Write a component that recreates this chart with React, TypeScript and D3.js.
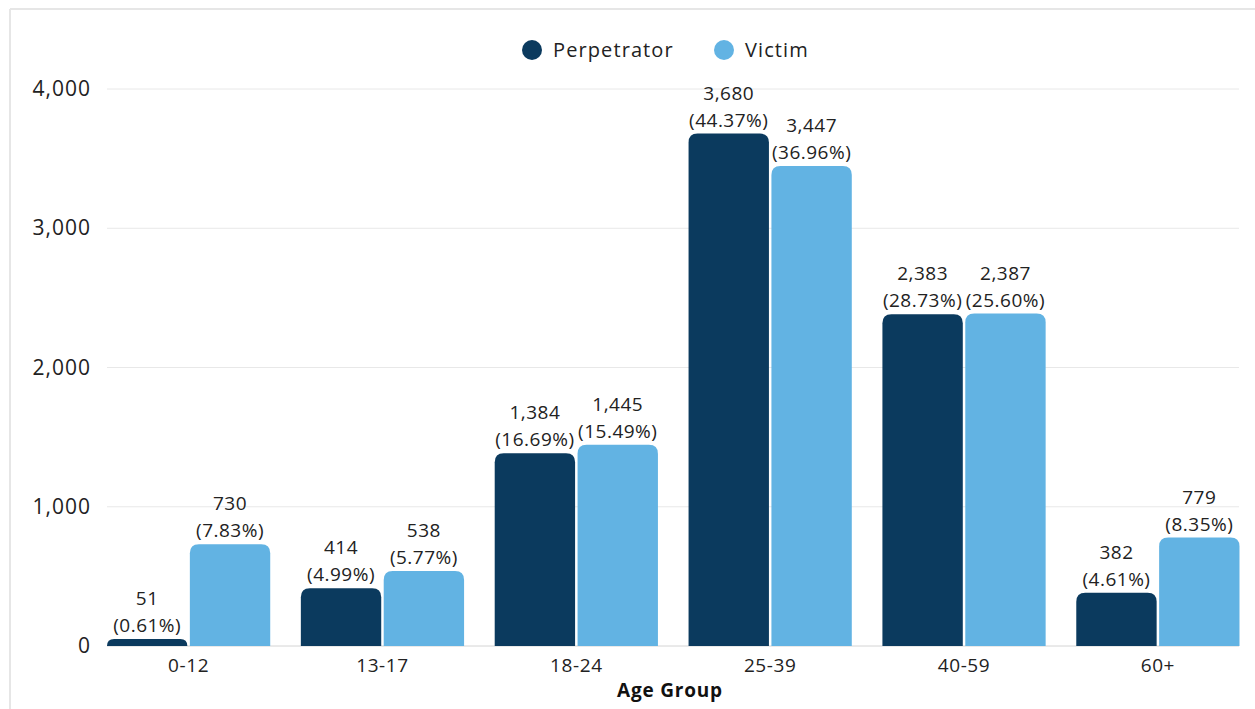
import React from "react";
import * as d3 from "d3";

const categories = ["0-12", "13-17", "18-24", "25-39", "40-59", "60+"];
const seriesNames = ["Perpetrator", "Victim"];
const perpetratorValues = [51, 414, 1384, 3680, 2383, 382];
const perpetratorPct = ["0.61%", "4.99%", "16.69%", "44.37%", "28.73%", "4.61%"];
const victimValues = [730, 538, 1445, 3447, 2387, 779];
const victimPct = ["7.83%", "5.77%", "15.49%", "36.96%", "25.60%", "8.35%"];
const yTicks = [0, 1000, 2000, 3000, 4000];
const xAxisTitle = "Age Group";

const colors = ["#0b3a5e", "#62b3e3"];
const FONT = "'Open Sans', 'DejaVu Sans', sans-serif";

function topRoundedRect(x: number, y: number, w: number, h: number, r: number) {
  const rr = Math.min(r, h, w / 2);
  return `M${x},${y + h}V${y + rr}Q${x},${y} ${x + rr},${y}H${x + w - rr}Q${x + w},${y} ${x + w},${y + rr}V${y + h}Z`;
}

export default function App() {
  const W = 1255, H = 709;
  const x0 = d3.scaleBand<string>().domain(categories).range([107, 1239.5]).paddingInner(0.158).paddingOuter(0);
  const x1 = d3.scaleBand<string>().domain(seriesNames).range([0, x0.bandwidth()]).paddingInner(0.03);
  const y = d3.scaleLinear().domain([0, 4000]).range([646, 89]);

  const series = [
    { name: seriesNames[0], values: perpetratorValues, pct: perpetratorPct, color: colors[0] },
    { name: seriesNames[1], values: victimValues, pct: victimPct, color: colors[1] },
  ];

  return (
    <svg width={W} height={H} style={{ position: "absolute", left: 0, top: 0, background: "#fff" }} fontFamily={FONT}>
      {/* frame */}
      <line x1={10} x2={W} y1={9} y2={9} stroke="#e6e6e6" strokeWidth={2} />
      <line x1={10} x2={10} y1={9} y2={H} stroke="#e6e6e6" strokeWidth={2} />

      {/* legend */}
      <g>
        <circle cx={532} cy={50} r={10} fill={colors[0]} />
        <text x={553} y={57} fontSize={20} letterSpacing={1.1} fill="#222">{seriesNames[0]}</text>
        <circle cx={724} cy={50} r={10} fill={colors[1]} />
        <text x={745} y={57} fontSize={20} letterSpacing={1.1} fill="#222">{seriesNames[1]}</text>
      </g>

      {/* grid */}
      {yTicks.map((t) => (
        <g key={t}>
          <line x1={107} x2={1239} y1={y(t)} y2={y(t)} stroke={t === 0 ? "#d4d4d4" : "#e8e8e8"} strokeWidth={1} />
          <text x={91} y={y(t) + 7} textAnchor="end" fontSize={21} letterSpacing={1} fill="#222">
            {d3.format(",")(t)}
          </text>
        </g>
      ))}

      {/* bars */}
      {categories.map((c, i) => (
        <g key={c} transform={`translate(${x0(c)},0)`}>
          {series.map((s) => {
            const bx = x1(s.name)!;
            const bw = x1.bandwidth();
            const v = s.values[i];
            const top = y(v);
            const cx = bx + bw / 2;
            return (
              <g key={s.name}>
                <path d={topRoundedRect(bx, top, bw, y(0) - top, 9)} fill={s.color} />
                <text x={cx} y={top - 34} textAnchor="middle" fontSize={19} letterSpacing={0.5} fill="#222">
                  {d3.format(",")(v)}
                </text>
                <text x={cx} y={top - 7} textAnchor="middle" fontSize={19} letterSpacing={0.5} fill="#222">
                  {`(${s.pct[i]})`}
                </text>
              </g>
            );
          })}
          <text x={x0.bandwidth() / 2} y={672} textAnchor="middle" fontSize={19} letterSpacing={0.6} fill="#222">
            {c}
          </text>
        </g>
      ))}

      {/* x axis title */}
      <text x={670} y={697} textAnchor="middle" fontSize={19} fontWeight={700} letterSpacing={0.8} fill="#111">
        {xAxisTitle}
      </text>
    </svg>
  );
}
